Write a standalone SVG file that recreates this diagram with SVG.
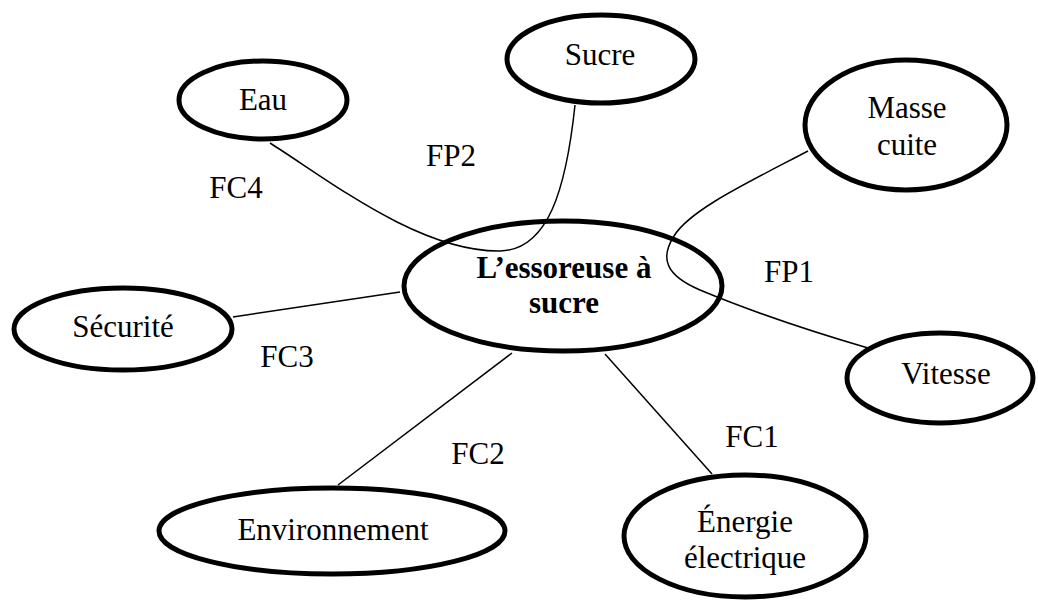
<svg xmlns="http://www.w3.org/2000/svg" width="1038" height="602" viewBox="0 0 1038 602">
<style>
.n{fill:#fff;stroke:#000;stroke-width:5}
.t{font-family:"Liberation Serif","Times New Roman",serif;font-size:31px;fill:#000;text-anchor:middle}
.b{font-weight:bold}
.c{fill:none;stroke:#000;stroke-width:1.5}
</style>
<rect width="1038" height="602" fill="#fff"/>
<g id="connectors">
<path class="c" d="M270,143 C330,181 420,252 500,251 C548,250 566,190 575,105"/>
<path class="c" d="M808,151 C745,184 690,210 674,236 C660,258 665,275 700,290 C760,315 820,334 868,348"/>
<line class="c" x1="233" y1="317" x2="400" y2="292"/>
<line class="c" x1="338" y1="485" x2="512" y2="353"/>
<line class="c" x1="605" y1="354" x2="712" y2="474"/>
</g>
<g id="center"><ellipse class="n" cx="563" cy="286" rx="159" ry="65" style="fill:none"/><text class="t b" x="564" y="278">L’essoreuse à</text><text class="t b" x="564" y="313">sucre</text></g>
<g id="sucre"><ellipse class="n" cx="601" cy="59" rx="94" ry="44"/><text class="t" x="600" y="65">Sucre</text></g>
<g id="eau"><ellipse class="n" cx="263" cy="100" rx="84" ry="39"/><text class="t" x="263" y="110">Eau</text></g>
<g id="masse"><ellipse class="n" cx="906" cy="125" rx="101" ry="65"/><text class="t" x="907" y="118">Masse</text><text class="t" x="907" y="155">cuite</text></g>
<g id="vitesse"><ellipse class="n" cx="940" cy="378" rx="93" ry="45"/><text class="t" x="946" y="384">Vitesse</text></g>
<g id="securite"><ellipse class="n" cx="123" cy="329" rx="109" ry="41"/><text class="t" x="123" y="337">Sécurité</text></g>
<g id="environnement"><ellipse class="n" cx="332" cy="531" rx="173" ry="43"/><text class="t" x="333" y="540">Environnement</text></g>
<g id="energie"><ellipse class="n" cx="745" cy="536" rx="121" ry="61"/><text class="t" x="745" y="532">Énergie</text><text class="t" x="745" y="568">électrique</text></g>
<g id="labels">
<text class="t" x="236" y="198">FC4</text>
<text class="t" x="451" y="166">FP2</text>
<text class="t" x="789" y="282">FP1</text>
<text class="t" x="287" y="367">FC3</text>
<text class="t" x="478" y="464">FC2</text>
<text class="t" x="752" y="447">FC1</text>
</g>
</svg>
